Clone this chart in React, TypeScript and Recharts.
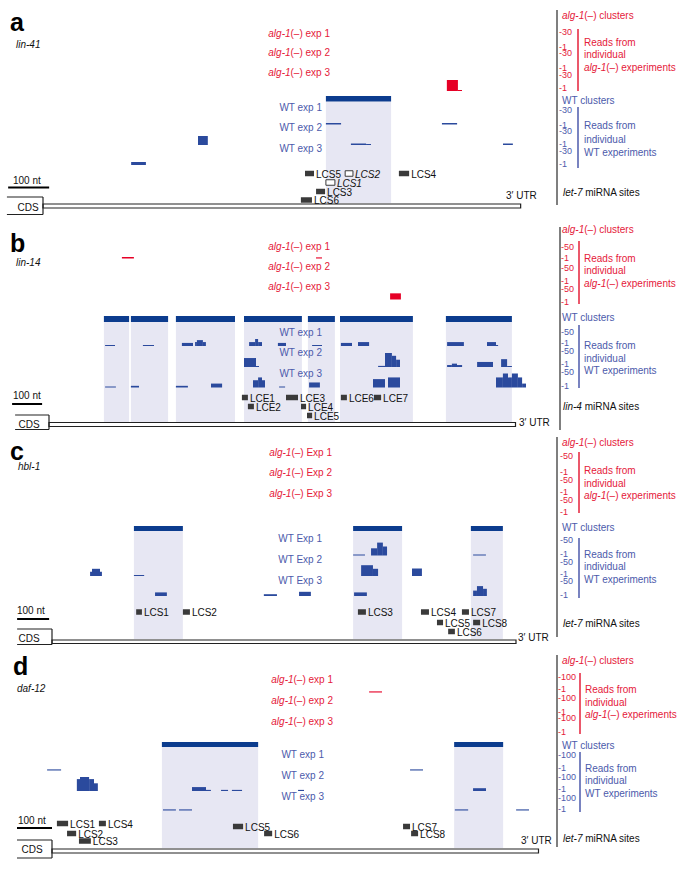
import React from 'react'
import { ComposedChart, XAxis, YAxis, ReferenceArea, ReferenceLine, Scatter } from 'recharts'

const W = 689
const FONT = '"Liberation Sans", Arial, Helvetica, sans-serif'
const RED = '#e5203a'
const RED_MARK = '#e60026'
const BLUE_TXT = '#4c5aab'
const NAVY = '#0c3c8e'
const READ = '#2b4a9d'
const SHADE = '#e7e7f3'
const SITE = '#3a3a3a'
const INK = '#111'

// read tracks: r1..r3 = alg-1(-) exp 1..3, w1..w3 = WT exp 1..3
type Read = [string, number, number, number] // track, start nt, end nt, reads
type Site = [string, number, number, number, number?] // name, start nt, end nt, row, open box

// a: lin-41
const lin41Clusters = [[690, 849]]
const lin41Reads: Read[] = [
  ['r3', 985, 1012, 22], ['r3', 1012, 1022, 1],
  ['w1', 690, 727, 3], ['w1', 973, 1010, 3],
  ['w2', 378, 402, 18], ['w2', 751, 788, 3], ['w2', 788, 800, 1], ['w2', 1122, 1146, 3],
  ['w3', 215, 251, 6],
]
const lin41Sites: Site[] = [
  ['LCS5', 639, 661, 0], ['LCS2', 737, 756, 0, 1], ['LCS1', 690, 712, 1, 1],
  ['LCS3', 666, 688, 2], ['LCS6', 629, 656, 3], ['LCS4', 868, 893, 0],
]

// b: lin-14
const lin14Clusters = [[183, 267], [273, 397], [423, 620], [650, 843], [863, 953], [970, 1213], [1323, 1543]]
const lin14Reads: Read[] = [
  ['r1', 243, 283, 5], ['r1', 890, 910, 4], ['r3', 1137, 1173, 22],
  ['w1', 187, 220, 3], ['w1', 313, 350, 3], ['w1', 443, 480, 11], ['w1', 487, 493, 14],
  ['w1', 493, 513, 21], ['w1', 513, 523, 14], ['w1', 667, 687, 14], ['w1', 687, 697, 25],
  ['w1', 697, 710, 14], ['w1', 763, 790, 11], ['w1', 877, 910, 3], ['w1', 973, 1010, 11],
  ['w1', 1030, 1067, 14], ['w1', 1327, 1383, 14], ['w1', 1460, 1490, 14], ['w1', 1490, 1497, 3],
  ['w2', 650, 690, 32], ['w2', 690, 700, 3], ['w2', 1097, 1120, 4], ['w2', 1120, 1143, 50],
  ['w2', 1143, 1157, 40], ['w2', 1157, 1170, 26], ['w2', 1327, 1343, 7], ['w2', 1343, 1360, 12],
  ['w2', 1360, 1377, 7], ['w2', 1427, 1480, 18], ['w2', 1507, 1527, 28], ['w2', 1527, 1543, 3],
  ['w3', 187, 223, 3], ['w3', 273, 300, 6], ['w3', 423, 463, 6], ['w3', 540, 577, 14],
  ['w3', 680, 697, 26], ['w3', 697, 710, 36], ['w3', 710, 720, 26], ['w3', 767, 787, 3],
  ['w3', 867, 903, 18], ['w3', 1080, 1120, 30], ['w3', 1130, 1170, 36], ['w3', 1490, 1513, 36],
  ['w3', 1513, 1530, 50], ['w3', 1530, 1543, 36], ['w3', 1543, 1563, 50], ['w3', 1563, 1577, 36],
  ['w3', 1577, 1590, 14],
]
const lin14Sites: Site[] = [
  ['LCE1', 643, 663, 0], ['LCE2', 663, 683, 1], ['LCE3', 790, 830, 0], ['LCE4', 840, 857, 1],
  ['LCE5', 860, 877, 2], ['LCE6', 973, 993, 0], ['LCE7', 1083, 1107, 0],
]

// c: hbl-1
const hbl1Clusters = [[256, 409], [941, 1094], [1309, 1409]]
const hbl1Reads: Read[] = [
  ['w1', 941, 978, 3], ['w1', 997, 1016, 24], ['w1', 1016, 1034, 43], ['w1', 1034, 1047, 30],
  ['w1', 1316, 1356, 3],
  ['w2', 119, 125, 14], ['w2', 125, 150, 24], ['w2', 150, 156, 14], ['w2', 256, 288, 3],
  ['w2', 966, 1003, 36], ['w2', 1003, 1019, 24], ['w2', 1125, 1156, 25],
  ['w3', 322, 359, 12], ['w3', 662, 703, 6], ['w3', 772, 809, 14], ['w3', 944, 984, 12],
  ['w3', 1316, 1328, 18], ['w3', 1328, 1347, 33], ['w3', 1347, 1359, 24],
]
const hbl1Sites: Site[] = [
  ['LCS1', 263, 281, 0], ['LCS2', 409, 431, 0], ['LCS3', 956, 981, 0], ['LCS4', 1153, 1178, 0],
  ['LCS5', 1203, 1222, 1], ['LCS6', 1238, 1259, 2], ['LCS7', 1281, 1303, 0], ['LCS8', 1316, 1338, 1],
]

// d: daf-12
const daf12Clusters = [[314, 589], [1149, 1289]]
const daf12Reads: Read[] = [
  ['r1', 906, 943, 8],
  ['w1', -14, 26, 8], ['w1', 1023, 1060, 8],
  ['w2', 71, 80, 85], ['w2', 80, 106, 100], ['w2', 106, 120, 85], ['w2', 120, 131, 55],
  ['w2', 400, 440, 28], ['w2', 440, 454, 8], ['w2', 483, 503, 8], ['w2', 514, 543, 8],
  ['w2', 703, 720, 8], ['w2', 1203, 1240, 20],
  ['w3', 317, 354, 8], ['w3', 363, 400, 8], ['w3', 1151, 1189, 8], ['w3', 1326, 1363, 8],
]
const daf12Sites: Site[] = [
  ['LCS1', 14, 46, 0], ['LCS2', 43, 69, 2], ['LCS3', 77, 111, 3], ['LCS4', 134, 154, 0],
  ['LCS5', 517, 546, 1], ['LCS6', 606, 629, 2], ['LCS7', 1003, 1023, 1], ['LCS8', 1026, 1046, 2],
]

interface Legend {
  gx: number; gy: [number, number]; tickX: number; lineX: number; textX: number
  clustersY: number; redTicks: number[]; redLine: [number, number]; redText: number[]
  wtY: number; blueTicks: number[]; blueLine: [number, number]; blueText: number[]; sitesY: number
}

interface Panel {
  letter: string; letterAt: [number, number]; gene: string; geneAt: [number, number]; height: number
  x0: number; k: number; utrLen: number; utrY: [number, number]; utrLabelAt: [number, number]
  expWord: string; redLabelX: number; redLabelY: number[]; wtLabelX: number; wtLabelY: number[]
  redBase: number[]; wtBase: number[]; trackH: number; maxReads: number
  clusterY: [number, number]; shadeBottom: number; siteRows: number[]
  scaleTextAt: [number, number]; scaleY: number; scaleFrom: number
  cds: { from: number; top: number; bottom: number; textAt: [number, number] }
  mirna: string; legend: Legend
  clusters: number[][]; reads: Read[]; sites: Site[]
}

const panels: Panel[] = [
  {
    letter: 'a', letterAt: [10, 22], gene: 'lin-41', geneAt: [16, 44], height: 215,
    x0: 43, k: 0.41, utrLen: 1165, utrY: [204, 208], utrLabelAt: [506, 195],
    expWord: 'exp', redLabelX: 330, redLabelY: [33, 52, 72], wtLabelX: 322, wtLabelY: [107, 127, 148],
    redBase: [50, 70, 91], wtBase: [124.5, 145, 165], trackH: 15, maxReads: 30,
    clusterY: [96, 101.5], shadeBottom: 203, siteRows: [173.5, 182.5, 191.5, 200],
    scaleTextAt: [13, 180], scaleY: 187.5, scaleFrom: -85,
    cds: { from: -88, top: 197, bottom: 214.5, textAt: [28, 207] },
    mirna: 'let-7',
    legend: {
      gx: 557, gy: [10, 205], tickX: 559, lineX: 578, textX: 584,
      clustersY: 15, redTicks: [32, 47, 53, 68, 75, 88], redLine: [29, 91], redText: [42, 54, 67],
      wtY: 100, blueTicks: [110, 125, 131, 144, 151, 164], blueLine: [107, 168], blueText: [125, 139, 152], sitesY: 192,
    },
    clusters: lin41Clusters, reads: lin41Reads, sites: lin41Sites,
  },
  {
    letter: 'b', letterAt: [10, 28], gene: 'lin-14', geneAt: [16, 47], height: 215,
    x0: 49, k: 0.3, utrLen: 1555, utrY: [207.5, 211.5], utrLabelAt: [519, 207],
    expWord: 'exp', redLabelX: 330, redLabelY: [31, 51, 71], wtLabelX: 322, wtLabelY: [117, 137, 158],
    redBase: [43.5, 64, 84.5], wtBase: [131, 152, 172.5], trackH: 14, maxReads: 50,
    clusterY: [101, 107], shadeBottom: 207, siteRows: [182.5, 191.5, 200.5],
    scaleTextAt: [13, 180], scaleY: 189, scaleFrom: -123,
    cds: { from: -113, top: 200, bottom: 214.5, textAt: [29, 209] },
    mirna: 'lin-4',
    legend: {
      gx: 560, gy: [12, 215], tickX: 561, lineX: 579, textX: 584,
      clustersY: 14, redTicks: [32, 43, 53, 66, 74, 87], redLine: [26, 89], redText: [43, 55, 68],
      wtY: 102, blueTicks: [117, 128, 136, 149, 157, 171], blueLine: [110, 173], blueText: [130, 143, 155], sitesY: 191,
    },
    clusters: lin14Clusters, reads: lin14Reads, sites: lin14Sites,
  },
  {
    letter: 'c', letterAt: [10, 21], gene: 'hbl-1', geneAt: [18, 36], height: 215,
    x0: 52, k: 0.32, utrLen: 1450, utrY: [210, 213.5], utrLabelAt: [518, 207],
    expWord: 'Exp', redLabelX: 332, redLabelY: [22, 42, 63], wtLabelX: 322, wtLabelY: [108, 129, 150],
    redBase: [42, 62, 82], wtBase: [125.5, 146, 166], trackH: 15, maxReads: 50,
    clusterY: [96, 101], shadeBottom: 209, siteRows: [182, 192.5, 201.5],
    scaleTextAt: [17, 180], scaleY: 189, scaleFrom: -109,
    cds: { from: -109, top: 199, bottom: 214.5, textAt: [29, 208] },
    mirna: 'let-7',
    legend: {
      gx: 557, gy: [7, 207], tickX: 560, lineX: 579, textX: 584,
      clustersY: 12, redTicks: [26, 42, 50, 62, 70, 82], redLine: [22, 83], redText: [40, 53, 65],
      wtY: 97, blueTicks: [110, 124, 132, 144, 151, 165], blueLine: [108, 168], blueText: [124, 136, 149], sitesY: 193,
    },
    clusters: hbl1Clusters, reads: hbl1Reads, sites: hbl1Sites,
  },
  {
    letter: 'd', letterAt: [13, 21], gene: 'daf-12', geneAt: [17, 43], height: 226,
    x0: 52, k: 0.35, utrLen: 1390, utrY: [204, 208], utrLabelAt: [521, 195],
    expWord: 'exp', redLabelX: 333, redLabelY: [34, 55, 76], wtLabelX: 324, wtLabelY: [109, 130, 151],
    redBase: [47.5, 70, 90], wtBase: [125.5, 146, 165.5], trackH: 14, maxReads: 100,
    clusterY: [97, 102], shadeBottom: 203, siteRows: [178.5, 181.5, 188.5, 196],
    scaleTextAt: [18, 175], scaleY: 183, scaleFrom: -100,
    cds: { from: -100, top: 195, bottom: 213, textAt: [32, 204] },
    mirna: 'let-7',
    legend: {
      gx: 557, gy: [10, 202], tickX: 558, lineX: 580, textX: 585,
      clustersY: 15, redTicks: [32, 44, 53, 67, 73, 87], redLine: [28, 89], redText: [44, 57, 69],
      wtY: 100, blueTicks: [110, 123, 132, 144, 153, 164], blueLine: [107, 167], blueText: [123, 135, 148], sitesY: 193,
    },
    clusters: daf12Clusters, reads: daf12Reads, sites: daf12Sites,
  },
]

interface Txt { x: number; y: number; s: string; c?: string; a?: 'start' | 'middle' | 'end'; sz?: number; b?: boolean; dx?: number }

// *text* -> italic
function rich(s: string) {
  return s.split('*').map((part, i) =>
    part ? <tspan key={i} fontStyle={i % 2 ? 'italic' : undefined}>{part}</tspan> : null
  )
}

function TextMark(props: any) {
  const d: Txt = props.payload
  const cx = props.cx ?? props.x
  const cy = props.cy ?? props.y
  return (
    <text
      x={cx + (d.dx ?? 0)}
      y={cy}
      textAnchor={d.a ?? 'start'}
      dominantBaseline="central"
      fill={d.c ?? INK}
      fontSize={d.sz ?? 10}
      fontWeight={d.b ? 700 : 400}
      fontFamily={FONT}
    >
      {rich(d.s)}
    </text>
  )
}

function layoutTexts(p: Panel): Txt[] {
  const lg = p.legend
  const t: Txt[] = [
    { x: p.letterAt[0], y: p.letterAt[1], s: p.letter, sz: 25, b: true, c: '#000' },
    { x: p.geneAt[0], y: p.geneAt[1], s: `*${p.gene}*` },
    { x: p.scaleTextAt[0], y: p.scaleTextAt[1], s: '100 nt' },
    { x: p.cds.textAt[0], y: p.cds.textAt[1], s: 'CDS', a: 'middle' },
    { x: p.utrLabelAt[0], y: p.utrLabelAt[1], s: '3\u2032 UTR' },
    { x: 562, y: lg.clustersY, s: '*alg-1*(\u2013) clusters', c: RED },
    { x: 562, y: lg.wtY, s: 'WT clusters', c: BLUE_TXT },
    { x: 563, y: lg.sitesY, s: `*${p.mirna}* miRNA sites` },
  ]
  ;[0, 1, 2].forEach((i) => {
    t.push({ x: p.redLabelX, y: p.redLabelY[i], s: `*alg-1*(\u2013) ${p.expWord} ${i + 1}`, c: RED, a: 'end' })
    t.push({ x: p.wtLabelX, y: p.wtLabelY[i], s: `WT ${p.expWord} ${i + 1}`, c: BLUE_TXT, a: 'end' })
  })
  lg.redTicks.forEach((y, i) => t.push({ x: lg.tickX, y, s: `-${i % 2 ? 1 : p.maxReads}`, c: RED, sz: 9 }))
  lg.blueTicks.forEach((y, i) => t.push({ x: lg.tickX, y, s: `-${i % 2 ? 1 : p.maxReads}`, c: BLUE_TXT, sz: 9 }))
  const redLines = ['Reads from', 'individual', '*alg-1*(\u2013) experiments']
  const blueLines = ['Reads from', 'individual', 'WT experiments']
  lg.redText.forEach((y, i) => t.push({ x: lg.textX, y, s: redLines[i], c: RED }))
  lg.blueText.forEach((y, i) => t.push({ x: lg.textX, y, s: blueLines[i], c: BLUE_TXT }))
  return t
}

function GenePanel({ p }: { p: Panel }) {
  const ntDomain = [-p.x0 / p.k, (W - p.x0) / p.k]
  const base = (track: string) => (track[0] === 'r' ? p.redBase : p.wtBase)[Number(track[1]) - 1]
  const readH = (n: number) => Math.max(1, (n / p.maxReads) * p.trackH)
  const siteH = 5.5
  const lg = p.legend
  const siteLabels: Txt[] = p.sites.map((s) => ({
    x: s[2], y: p.siteRows[s[3]], s: s[4] ? `*${s[0]}*` : s[0], dx: 2,
  }))
  const seg = (x1: number, y1: number, x2: number, y2: number) => [{ x: x1, y: y1 }, { x: x2, y: y2 }]

  return (
    <ComposedChart width={W} height={p.height} margin={{ top: 0, right: 0, bottom: 0, left: 0 }}>
      <XAxis xAxisId="nt" type="number" dataKey="x" domain={ntDomain} allowDataOverflow hide />
      <XAxis xAxisId="px" type="number" dataKey="x" domain={[0, W]} allowDataOverflow hide />
      <YAxis type="number" dataKey="y" domain={[0, p.height]} reversed allowDataOverflow hide />

      {p.clusters.map(([s, e], i) => (
        <ReferenceArea key={`sh${i}`} xAxisId="nt" x1={s} x2={e} y1={p.clusterY[1]} y2={p.shadeBottom}
          fill={SHADE} fillOpacity={1} stroke="none" ifOverflow="visible" />
      ))}
      {p.clusters.map(([s, e], i) => (
        <ReferenceArea key={`cl${i}`} xAxisId="nt" x1={s} x2={e} y1={p.clusterY[0]} y2={p.clusterY[1]}
          fill={NAVY} fillOpacity={1} stroke="none" ifOverflow="visible" />
      ))}
      {p.reads.map(([track, s, e, n], i) => (
        <ReferenceArea key={`rd${i}`} xAxisId="nt" x1={s} x2={e} y1={base(track) - readH(n)} y2={base(track)}
          fill={track[0] === 'r' ? RED_MARK : READ} fillOpacity={1} stroke="none" ifOverflow="visible" />
      ))}
      {p.sites.map(([name, s, e, row, open]) => (
        <ReferenceArea key={`st${name}`} xAxisId="nt" x1={s} x2={e}
          y1={p.siteRows[row] - siteH / 2} y2={p.siteRows[row] + siteH / 2}
          fill={open ? '#fff' : SITE} fillOpacity={1} stroke={open ? SITE : 'none'} strokeWidth={1}
          ifOverflow="visible" />
      ))}

      {/* 3' UTR double line and CDS box */}
      <ReferenceArea xAxisId="nt" x1={0} x2={p.utrLen} y1={p.utrY[0]} y2={p.utrY[1]}
        fill="#fff" fillOpacity={1} stroke="#222" strokeWidth={1.2} ifOverflow="visible" />
      <ReferenceLine xAxisId="nt" segment={seg(p.cds.from, p.cds.top, 0, p.cds.top)} stroke="#222" strokeWidth={1.2} ifOverflow="visible" />
      <ReferenceLine xAxisId="nt" segment={seg(0, p.cds.top, 0, p.cds.bottom)} stroke="#222" strokeWidth={1.2} ifOverflow="visible" />
      <ReferenceLine xAxisId="nt" segment={seg(p.cds.from, p.cds.bottom, 0, p.cds.bottom)} stroke="#222" strokeWidth={1.2} ifOverflow="visible" />
      <ReferenceLine xAxisId="nt" segment={seg(p.scaleFrom, p.scaleY, p.scaleFrom + 100, p.scaleY)} stroke="#000" strokeWidth={2} ifOverflow="visible" />

      {/* legend column */}
      <ReferenceLine xAxisId="px" segment={seg(lg.gx, lg.gy[0], lg.gx, lg.gy[1])} stroke="#555" strokeWidth={1.5} ifOverflow="visible" />
      <ReferenceLine xAxisId="px" segment={seg(lg.lineX, lg.redLine[0], lg.lineX, lg.redLine[1])} stroke={RED} strokeWidth={1.5} ifOverflow="visible" />
      <ReferenceLine xAxisId="px" segment={seg(lg.lineX, lg.blueLine[0], lg.lineX, lg.blueLine[1])} stroke={BLUE_TXT} strokeWidth={1.5} ifOverflow="visible" />

      <Scatter xAxisId="px" dataKey="y" data={layoutTexts(p)} shape={TextMark} isAnimationActive={false} />
      <Scatter xAxisId="nt" dataKey="y" data={siteLabels} shape={TextMark} isAnimationActive={false} />
    </ComposedChart>
  )
}

export default function App() {
  return (
    <div style={{ position: 'absolute', left: 0, top: 0, width: W, background: '#fff' }}>
      {panels.map((p) => (
        <GenePanel key={p.letter} p={p} />
      ))}
    </div>
  )
}
